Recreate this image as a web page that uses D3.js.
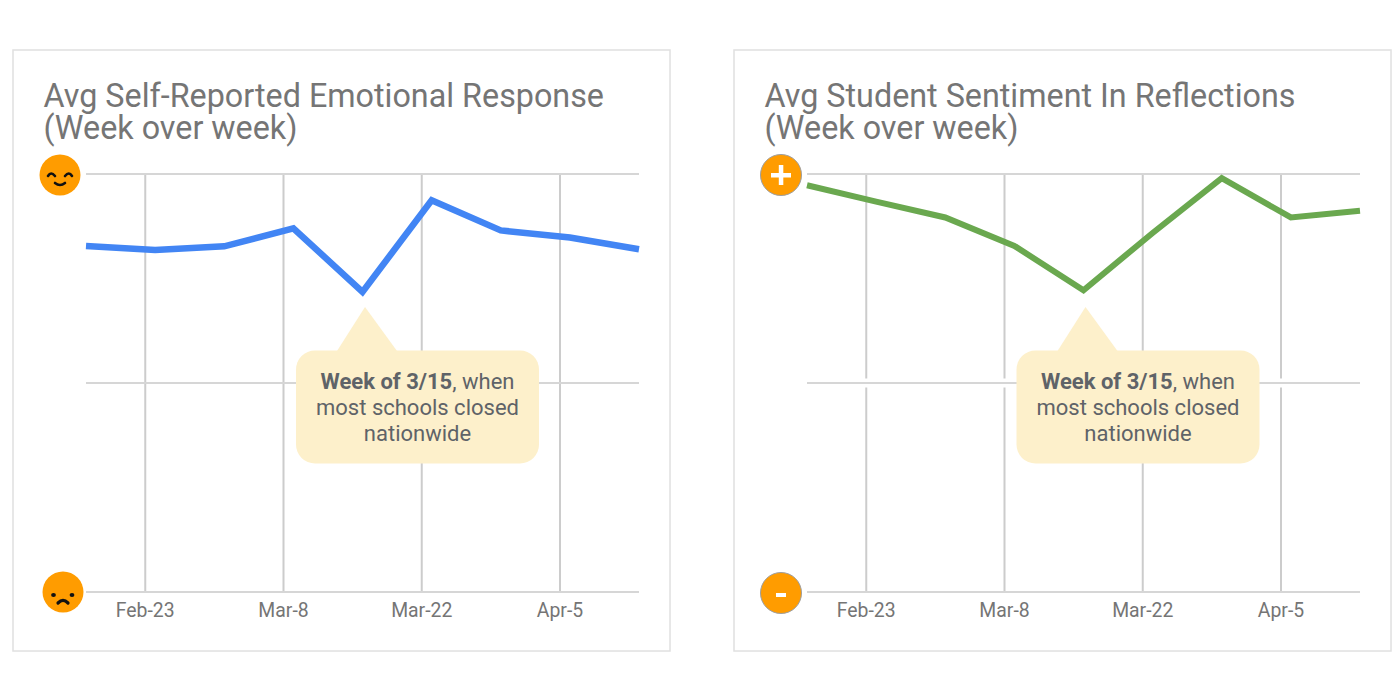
<!DOCTYPE html>
<html>
<head>
<meta charset="utf-8">
<script src="https://cdn.jsdelivr.net/npm/d3@7/dist/d3.min.js"></script>
<style>
  html, body { margin: 0; padding: 0; background: #fff; }
  svg { display: block; }
  text { font-family: Roboto, sans-serif; }
</style>
</head>
<body>
<svg id="chart" width="1400" height="700"></svg>
<script>
// Weekly readings, Mondays of spring 2020
const weeks = ["2020-02-17","2020-02-24","2020-03-02","2020-03-09","2020-03-16","2020-03-23","2020-03-30","2020-04-06","2020-04-13"];
const tickDates = ["2020-02-23","2020-03-08","2020-03-22","2020-04-05"];
const tickLabels = ["Feb-23","Mar-8","Mar-22","Apr-5"];
const emotionValues = [82.8, 81.8, 82.7, 87.0, 71.8, 93.7, 86.5, 84.8, 82.0];
const sentimentValues = [97.3, 93.4, 89.6, 82.8, 72.2, 85.9, 99.0, 89.6, 91.2];
const emotionTitle = ["Avg Self-Reported Emotional Response", "(Week over week)"];
const sentimentTitle = ["Avg Student Sentiment In Reflections", "(Week over week)"];
const yTicks = [0, 50, 100];

const parse = d3.utcParse("%Y-%m-%d");
const svg = d3.select("#chart");

function drawPanel(o) {
  const g = svg.append("g").attr("transform", `translate(${o.dx},0)`);

  g.append("rect")
    .attr("x", 13).attr("y", 50).attr("width", 657).attr("height", 601)
    .attr("fill", "#fff").attr("stroke", "#e0e0e0").attr("stroke-width", 1.5);

  g.selectAll("text.title").data(o.title).join("text")
    .attr("class", "title")
    .attr("x", 43.5)
    .attr("y", (d, i) => 106.5 + i * 32.5)
    .attr("font-size", 32.3)
    .attr("fill", "#757575")
    .text(d => d);

  const x = d3.scaleUtc()
    .domain([parse(weeks[0]), parse(weeks[weeks.length - 1])])
    .range([86, 639]);
  const y = d3.scaleLinear().domain([0, 100]).range([592, 174]);

  // Vertical grid first, so the horizontal rules can cut a small gap through it
  g.selectAll("line.v").data(tickDates).join("line")
    .attr("class", "v")
    .attr("x1", d => x(parse(d))).attr("x2", d => x(parse(d)))
    .attr("y1", 174).attr("y2", 592)
    .attr("stroke", "#cccccc").attr("stroke-width", 2);
  g.selectAll("line.halo").data(o.haloTicks).join("line")
    .attr("class", "halo")
    .attr("x1", 86).attr("x2", 639)
    .attr("y1", d => y(d)).attr("y2", d => y(d))
    .attr("stroke", "#fff").attr("stroke-width", 9);
  g.selectAll("line.h").data(yTicks).join("line")
    .attr("class", "h")
    .attr("x1", 86).attr("x2", 639)
    .attr("y1", d => y(d)).attr("y2", d => y(d))
    .attr("stroke", "#d6d6d6").attr("stroke-width", 2);

  g.selectAll("text.tick").data(tickDates).join("text")
    .attr("class", "tick")
    .attr("x", d => x(parse(d)))
    .attr("y", 616.5)
    .attr("text-anchor", "middle")
    .attr("font-size", 19.4)
    .attr("fill", "#757575")
    .text((d, i) => tickLabels[i]);

  const line = d3.line()
    .x((d, i) => x(parse(weeks[i])))
    .y(d => y(d));
  g.append("path")
    .attr("d", line(o.values))
    .attr("fill", "none")
    .attr("stroke", o.color)
    .attr("stroke-width", o.lineWidth)
    .attr("stroke-linejoin", "miter");

  // Callout pointing at the week of 3/15
  const cx = 417.5 + o.calloutShift;
  const tipX = x(parse("2020-03-16")) + 2.5 + o.calloutShift;
  g.append("path")
    .attr("d", d3.line()([[tipX, 307], [tipX + 32, 351], [tipX - 28, 351]]) + "Z")
    .attr("fill", "#fdf0cb");
  g.append("rect")
    .attr("x", cx - 121.5).attr("y", 350.5).attr("width", 243).attr("height", 113).attr("rx", 19)
    .attr("fill", "#fdf0cb");
  const note = g.append("text")
    .attr("text-anchor", "middle").attr("font-size", 22).attr("fill", "#5f6368");
  const first = note.append("tspan").attr("x", cx).attr("y", 388.5);
  first.append("tspan").attr("font-weight", 700).text("Week of 3/15");
  first.append("tspan").text(", when");
  note.append("tspan").attr("x", cx).attr("y", 414.5).text("most schools closed");
  note.append("tspan").attr("x", cx).attr("y", 440.5).text("nationwide");

  o.marker(g);
}

// Smiling and frowning faces for the emotion scale
function faces(g) {
  const ink = s => s.attr("fill", "none").attr("stroke", "#111").attr("stroke-width", 2.6).attr("stroke-linecap", "round");

  const happy = g.append("g").attr("transform", "translate(60,175)");
  happy.append("circle").attr("r", 20.5).attr("fill", "#ff9c00");
  happy.append("path").attr("d", "M-12,1 Q-9,-4 -5,1").call(ink);
  happy.append("path").attr("d", "M5,1 Q9,-4 12,1").call(ink);
  happy.append("path").attr("d", "M-5,8 Q0,12 5,8").call(ink);

  const sad = g.append("g").attr("transform", "translate(63,592)");
  sad.append("circle").attr("r", 20.5).attr("fill", "#ff9c00");
  sad.append("ellipse").attr("cx", -9.5).attr("cy", 3).attr("rx", 2.4).attr("ry", 2).attr("fill", "#111");
  sad.append("ellipse").attr("cx", 9).attr("cy", 3).attr("rx", 2.4).attr("ry", 2).attr("fill", "#111");
  sad.append("path").attr("d", "M-5,11 Q0,6 5,11").call(ink).attr("stroke-width", 3.2);
}

// Plus and minus badges for the sentiment scale
function signs(g) {
  const badge = cy => {
    const b = g.append("g").attr("transform", `translate(60,${cy})`);
    b.append("circle").attr("r", 20.5).attr("fill", "#ff9c00").attr("stroke", "#9e9e9e").attr("stroke-width", 1);
    return b;
  };
  const plus = badge(175);
  plus.append("rect").attr("x", -10).attr("y", -2).attr("width", 20).attr("height", 4.5).attr("fill", "#fff");
  plus.append("rect").attr("x", -2.2).attr("y", -10).attr("width", 4.5).attr("height", 20).attr("fill", "#fff");
  const minus = badge(593);
  minus.append("rect").attr("x", -5).attr("y", 0).attr("width", 10).attr("height", 4).attr("fill", "#fff");
}

drawPanel({ dx: 0, title: emotionTitle, values: emotionValues, color: "#4285f4", lineWidth: 6.5, calloutShift: 0, haloTicks: [], marker: faces });
drawPanel({ dx: 721, title: sentimentTitle, values: sentimentValues, color: "#6aa84f", lineWidth: 6, calloutShift: -0.5, haloTicks: [50], marker: signs });
</script>
</body>
</html>
